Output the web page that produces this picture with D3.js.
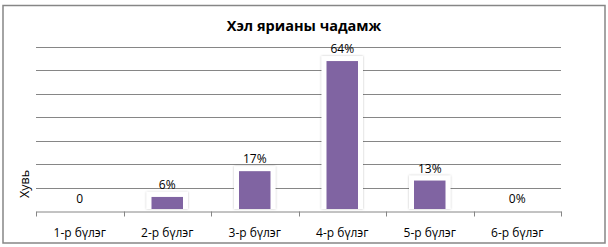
<!DOCTYPE html>
<html>
<head>
<meta charset="utf-8">
<script src="https://cdn.jsdelivr.net/npm/d3@7"></script>
<style>
  body { margin: 0; background: #fff; }
  svg { display: block; font-family: "Open Sans", "Noto Sans", sans-serif; }
</style>
</head>
<body>
<div id="container"></div>
<script>
const categories = ["1-р бүлэг", "2-р бүлэг", "3-р бүлэг", "4-р бүлэг", "5-р бүлэг", "6-р бүлэг"];
const values = [0, 0.06, 0.17, 0.64, 0.13, 0];
const valueLabels = ["0", "6%", "17%", "64%", "13%", "0%"];
const gridTicks = [0.1, 0.2, 0.3, 0.4, 0.5, 0.6, 0.7];

const W = 608, H = 247;
const plot = { left: 36, right: 561, top: 47, bottom: 211 };

const svg = d3.select("#container").append("svg")
	.attr("width", W)
	.attr("height", H);

// chart area border
svg.append("rect")
	.attr("x", 3).attr("y", 5.5)
	.attr("width", 602).attr("height", 237.5)
	.attr("fill", "#fff")
	.attr("stroke", "#868686")
	.attr("stroke-width", 1.5);

svg.append("text")
	.attr("x", 304).attr("y", 31)
	.attr("text-anchor", "middle")
	.attr("font-size", 14.5)
	.attr("font-weight", "bold")
	.attr("fill", "#000")
	.text("Хэл ярианы чадамж");

const x = d3.scaleBand()
	.domain(categories)
	.range([plot.left, plot.right]);

const y = d3.scaleLinear()
	.domain([0, 0.7])
	.range([plot.bottom, plot.top]);

// gridlines
svg.append("g")
	.selectAll("line")
	.data(gridTicks)
	.enter()
	.append("line")
	.attr("x1", plot.left).attr("x2", plot.right)
	.attr("y1", d => Math.round(y(d)) + 0.5)
	.attr("y2", d => Math.round(y(d)) + 0.5)
	.attr("stroke", "#868686");

// x axis
const xAxis = d3.axisBottom(x).tickSize(0).tickSizeOuter(0);
const gx = svg.append("g")
	.attr("transform", `translate(0, ${plot.bottom + 0.5})`)
	.call(xAxis);
gx.select(".domain").attr("stroke", "#868686");
gx.selectAll("text")
	.attr("dy", 0)
	.attr("y", 25)
	.attr("font-size", 12)
	.attr("font-family", "\"Open Sans\", sans-serif")
	.attr("fill", "#000");

// boundary tick marks
const bounds = categories.map(c => x(c)).concat([plot.right]);
gx.selectAll(".bound")
	.data(bounds)
	.enter()
	.append("line")
	.attr("class", "bound")
	.attr("x1", d => Math.round(d) + 0.5).attr("x2", d => Math.round(d) + 0.5)
	.attr("y1", 0).attr("y2", 5)
	.attr("stroke", "#868686");

// y axis title
svg.append("text")
	.attr("transform", `translate(29, 184) rotate(-90)`)
	.attr("text-anchor", "middle")
	.attr("font-size", 12.5)
	.attr("fill", "#000")
	.text("Хувь");

const barW = x.bandwidth() * 0.36;
const defs = svg.append("defs");
const f = defs.append("filter").attr("id", "glow")
	.attr("x", "-30%").attr("y", "-30%").attr("width", "160%").attr("height", "160%");
f.append("feDropShadow")
	.attr("dx", 0).attr("dy", 0).attr("stdDeviation", 1.2)
	.attr("flood-color", "#000").attr("flood-opacity", 0.25);

const bars = svg.append("g")
	.selectAll("g")
	.data(categories.map((c, i) => ({ c, v: values[i], label: valueLabels[i] })))
	.enter()
	.append("g");

// white halo behind each bar
bars.filter(d => d.v > 0)
	.append("rect")
	.attr("x", d => x(d.c) + (x.bandwidth() - barW) / 2 - 5)
	.attr("y", d => y(d.v) - 5)
	.attr("width", barW + 10)
	.attr("height", d => y(0) - y(d.v) + 3)
	.attr("fill", "#fff")
	.attr("filter", "url(#glow)");

bars.filter(d => d.v > 0)
	.append("rect")
	.attr("x", d => x(d.c) + (x.bandwidth() - barW) / 2)
	.attr("y", d => y(d.v))
	.attr("width", barW)
	.attr("height", d => y(0) - y(d.v) - 2)
	.attr("fill", "#8064A2");

bars.append("text")
	.attr("x", d => x(d.c) + x.bandwidth() / 2)
	.attr("y", d => y(d.v) - 8)
	.attr("text-anchor", "middle")
	.attr("font-size", 12)
	.attr("fill", "#000")
	.text(d => d.label);
</script>
</body>
</html>
